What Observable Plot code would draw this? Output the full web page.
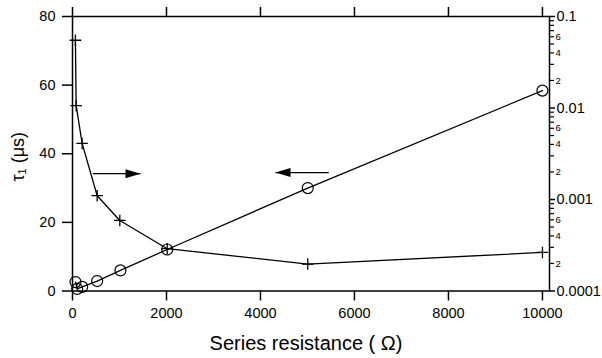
<!DOCTYPE html>
<html>
<head>
<meta charset="utf-8">
<script src="https://cdn.jsdelivr.net/npm/d3@7"></script>
<script src="https://cdn.jsdelivr.net/npm/@observablehq/plot@0.6"></script>
<style>
  html, body { margin: 0; padding: 0; background: white; }
  #chart svg { display: block; }
</style>
</head>
<body>
<div id="chart"></div>
<script>
// Circles: tau1 (left axis, µs) vs series resistance
const resistanceTau = [64, 100, 205, 525, 1020, 2015, 5006, 10000];
const tau1 = [2.6, 0.6, 1.2, 2.9, 6.0, 12.1, 30.0, 58.4];

// Plus markers: right (log) axis vs series resistance
const resistanceRight = [62, 78, 205, 525, 1007, 2015, 5006, 10000];
const rightValues = [0.055, 0.0106, 0.0041, 0.0011, 0.00059, 0.00029, 0.000197, 0.000264];

// Axis ticks
const xTicks = [0, 2000, 4000, 6000, 8000, 10000];
const yTicks = [0, 20, 40, 60, 80];
const rightMajor = [0.0001, 0.001, 0.01, 0.1];
const rightMajorLabels = ["0.0001", "0.001", "0.01", "0.1"];
const rightMinorMultipliers = [2, 3, 4, 5, 6, 7, 8, 9];
const rightMinorLabeled = [2, 4, 6];

// Annotation arrows (data units: resistance, left-axis units)
const arrowFrom = [432, 5453];
const arrowTo = [1447, 4319];
const arrowY = [34.2, 34.5];
const arrowDir = ["right", "left"];

const labelX = "Series resistance ( \u03A9)";
const labelY = "\u03C4\u2081 (\u03BCs)";

// Right log axis (0.0001 .. 0.1) mapped onto left linear axis (0 .. 80)
const LOG_MIN = -4, LOG_MAX = -1, Y_MAX = 80;
const toLeft = v => (Math.log10(v) - LOG_MIN) / (LOG_MAX - LOG_MIN) * Y_MAX;
const fromLeft = d => Math.pow(10, d / Y_MAX * (LOG_MAX - LOG_MIN) + LOG_MIN);

const circles = resistanceTau.map((r, i) => ({r, v: tau1[i]}));
const pluses = resistanceRight.map((r, i) => ({r, v: toLeft(rightValues[i])}));
const arrows = arrowFrom.map((x1, i) => ({x1, x2: arrowTo[i], y: arrowY[i], dir: arrowDir[i]}));

const majorPos = rightMajor.map(toLeft);
const minorPos = [];
for (let e = -4; e <= -2; e++) for (const k of rightMinorMultipliers) minorPos.push(toLeft(k * Math.pow(10, e)));

const majorFmt = d => {
  const idx = majorPos.findIndex(p => Math.abs(p - d) < 1e-6);
  return idx >= 0 ? rightMajorLabels[idx] : "";
};
const minorFmt = d => {
  const v = fromLeft(d);
  const e = Math.floor(Math.log10(v) + 1e-9);
  const k = Math.round(v / Math.pow(10, e));
  return rightMinorLabeled.includes(k) ? String(k) : "";
};

const headRight = {draw(ctx) { ctx.moveTo(0, 0); ctx.lineTo(-15, -4.5); ctx.lineTo(-15, 4.5); ctx.closePath(); }};
const headLeft = {draw(ctx) { ctx.moveTo(0, 0); ctx.lineTo(15, -4.5); ctx.lineTo(15, 4.5); ctx.closePath(); }};

const chart = Plot.plot({
  width: 602,
  height: 358,
  marginLeft: 72,
  marginRight: 53,
  marginTop: 16,
  marginBottom: 67.5,
  x: {domain: [0, 10150]},
  y: {domain: [0, 80]},
  style: {fontFamily: "'Liberation Sans', Arial, sans-serif", background: "white", color: "black"},
  marks: [
    Plot.frame({strokeWidth: 1.5}),
    Plot.axisX({ticks: xTicks, tickSize: 10, tickPadding: 7, fontSize: 14.5, label: null, strokeWidth: 1.5, tickFormat: d => String(d)}),
    Plot.axisX({anchor: "top", ticks: xTicks, tickSize: 10, tickFormat: () => "", label: null, strokeWidth: 1.5}),
    Plot.axisY({ticks: yTicks, tickSize: 10, tickPadding: 7, fontSize: 14.5, label: null, strokeWidth: 1.5}),
    Plot.axisY({anchor: "right", ticks: majorPos, tickFormat: majorFmt, tickSize: 5, tickPadding: 2, fontSize: 14.5, label: null, strokeWidth: 1.5}),
    Plot.axisY({anchor: "right", ticks: minorPos, tickFormat: minorFmt, tickSize: 4, tickPadding: 2, fontSize: 9.5, label: null, strokeWidth: 1.2}),
    Plot.line(circles, {x: "r", y: "v", stroke: "black", strokeWidth: 1.3}),
    Plot.dot(circles, {x: "r", y: "v", r: 5.5, stroke: "black", fill: "none", strokeWidth: 1.2}),
    Plot.line(pluses, {x: "r", y: "v", stroke: "black", strokeWidth: 1.3}),
    Plot.dot(pluses, {x: "r", y: "v", r: 3.8, symbol: "plus", stroke: "black", strokeWidth: 1.3}),
    Plot.link(arrows, {x1: "x1", x2: "x2", y1: "y", y2: "y", stroke: "black", strokeWidth: 1.3}),
    Plot.dot(arrows.filter(a => a.dir === "right"), {x: "x2", y: "y", symbol: headRight, fill: "black", stroke: "none"}),
    Plot.dot(arrows.filter(a => a.dir === "left"), {x: "x2", y: "y", symbol: headLeft, fill: "black", stroke: "none"}),
    Plot.text([labelX], {text: d => d, frameAnchor: "bottom", dy: 59, dx: -5, fontSize: 20}),
    Plot.text([labelY], {text: d => d, frameAnchor: "left", textAnchor: "middle", dx: -54, dy: 3, rotate: -90, fontSize: 18})
  ]
});
document.getElementById("chart").appendChild(chart);
</script>
</body>
</html>
